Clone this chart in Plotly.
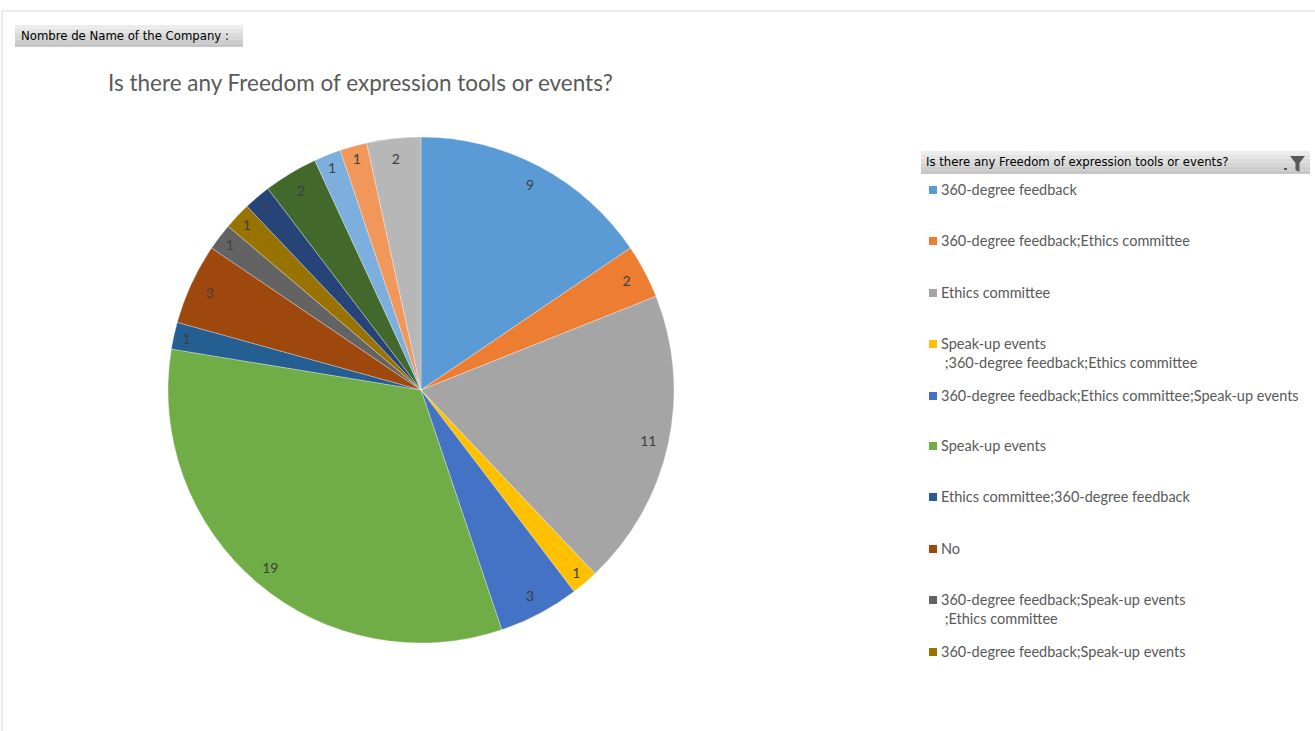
import plotly.graph_objects as go

W, H = 1315, 731

# ---------------- data ----------------
labels = [
    "360-degree feedback",
    "360-degree feedback;Ethics committee",
    "Ethics committee",
    "Speak-up events ;360-degree feedback;Ethics committee",
    "360-degree feedback;Ethics committee;Speak-up events",
    "Speak-up events",
    "Ethics committee;360-degree feedback",
    "No",
    "360-degree feedback;Speak-up events ;Ethics committee",
    "360-degree feedback;Speak-up events",
    "Ethics committee;Speak-up events",
    "Speak-up events;360-degree feedback",
    "Speak-up events;Ethics committee",
    "Ethics committee;Speak-up events;360-degree feedback",
    "Speak-up events;Ethics committee;360-degree feedback",
]
values = [9, 2, 11, 1, 3, 19, 1, 3, 1, 1, 1, 2, 1, 1, 2]
colors = ["#5B9BD5", "#ED7D31", "#A5A5A5", "#FFC000", "#4472C4", "#70AD47",
          "#255E91", "#9E480E", "#636363", "#997300", "#264478", "#43682B",
          "#7CAFDD", "#F1975A", "#B7B7B7"]
legend_count = 10  # the legend box shows only the first 10 entries

title_text = "Is there any Freedom of expression tools or events?"
button_text = "Nombre de Name of the Company :"
legend_header = "Is there any Freedom of expression tools or events?"


def px(x):
    return x / W


def py(y):
    return 1 - y / H


cx, cy, r = 421, 390, 253
dom_x = [px(cx - r), px(cx + r)]
dom_y = [py(cy + r), py(cy - r)]

fig = go.Figure()
# main pie (no text)
fig.add_trace(go.Pie(
    labels=labels, values=values, sort=False, direction="clockwise", rotation=0,
    marker=dict(colors=colors, line=dict(width=0.5, color="rgba(255,255,255,0.6)")),
    textinfo="none", domain=dict(x=dom_x, y=dom_y), showlegend=False,
    hoverinfo="label+value",
))
# transparent ring carrying the value labels near the outer edge
fig.add_trace(go.Pie(
    labels=labels, values=values, sort=False, direction="clockwise", rotation=0,
    hole=0.84, marker=dict(colors=["rgba(0,0,0,0)"] * len(values), line=dict(width=0)),
    textinfo="value", textposition="inside", insidetextorientation="horizontal",
    textfont=dict(family="Lato, Open Sans, sans-serif", size=14, color="#404040"),
    domain=dict(x=dom_x, y=dom_y), showlegend=False, hoverinfo="skip",
))

shapes = []
annotations = []

# outer frame lines
shapes.append(dict(type="line", xref="paper", yref="paper", x0=px(2), x1=1, y0=py(11), y1=py(11),
                   line=dict(color="#D9D9D9", width=1)))
shapes.append(dict(type="line", xref="paper", yref="paper", x0=px(2), x1=px(2), y0=0, y1=py(11),
                   line=dict(color="#D9D9D9", width=1)))


def gradient_box(x0, y0, x1, y1):
    steps = 6
    c0 = (236, 236, 236)
    c1 = (198, 198, 198)
    for i in range(steps):
        t = i / (steps - 1)
        c = tuple(int(c0[k] + (c1[k] - c0[k]) * t) for k in range(3))
        ya = y0 + (y1 - y0) * i / steps
        yb = y0 + (y1 - y0) * (i + 1) / steps
        shapes.append(dict(type="rect", xref="paper", yref="paper", x0=px(x0), x1=px(x1),
                           y0=py(yb), y1=py(ya), fillcolor="rgb(%d,%d,%d)" % c, line=dict(width=0),
                           layer="below"))


hdr_font = dict(family="DejaVu Sans Condensed, Liberation Sans Narrow, Lato, sans-serif", size=13,
                color="#000000")

# top-left field button
gradient_box(15, 25, 243, 47)
annotations.append(dict(x=px(19), y=py(36), xref="paper", yref="paper", xanchor="left", yanchor="middle",
                        text=button_text, showarrow=False, font=hdr_font))

# legend header
gradient_box(921, 151, 1310, 174)
annotations.append(dict(x=px(924), y=py(162), xref="paper", yref="paper", xanchor="left", yanchor="middle",
                        text=legend_header, showarrow=False, font=hdr_font))
# filter icon
fx0, fx1, fy0, fmid, fy1 = 1290, 1305, 156, 163, 172
path = "M %f,%f L %f,%f L %f,%f L %f,%f L %f,%f L %f,%f Z" % (
    px(fx0), py(fy0), px(fx1), py(fy0), px(1299.5), py(fmid), px(1299.5), py(fy1),
    px(1295.5), py(fy1 - 2), px(1295.5), py(fmid))
shapes.append(dict(type="path", xref="paper", yref="paper", path=path, fillcolor="#595959",
                   line=dict(width=0)))
shapes.append(dict(type="rect", xref="paper", yref="paper", x0=px(1284), x1=px(1287), y0=py(170), y1=py(168),
                   fillcolor="#595959", line=dict(width=0)))

# legend entries
item_y = [190, 241, 293, 344, 396, 446, 497, 549, 600, 652]
for i in range(legend_count):
    y = item_y[i]
    shapes.append(dict(type="rect", xref="paper", yref="paper", x0=px(929), x1=px(937),
                       y0=py(y + 4), y1=py(y - 4), fillcolor=colors[i], line=dict(width=0)))
    txt = labels[i].replace(" ;", "<br>\u00a0;")
    annotations.append(dict(x=px(939), y=py(y - 11), xref="paper", yref="paper", xanchor="left",
                            yanchor="top", align="left", text=txt, showarrow=False,
                            font=dict(family="Lato, Open Sans, sans-serif", size=14.5, color="#595959")))

fig.update_layout(
    width=W, height=H, margin=dict(l=0, r=0, t=0, b=0),
    paper_bgcolor="white", plot_bgcolor="white",
    title=dict(text=title_text, x=px(108), xanchor="left", y=py(83), yanchor="middle",
               font=dict(family="Lato, Open Sans, sans-serif", size=22.5, color="#595959")),
    shapes=shapes, annotations=annotations, showlegend=False,
)

fig.write_html("out.html", config={"displayModeBar": False},
               post_script="document.body.style.margin='0';document.body.style.overflow='hidden';")
